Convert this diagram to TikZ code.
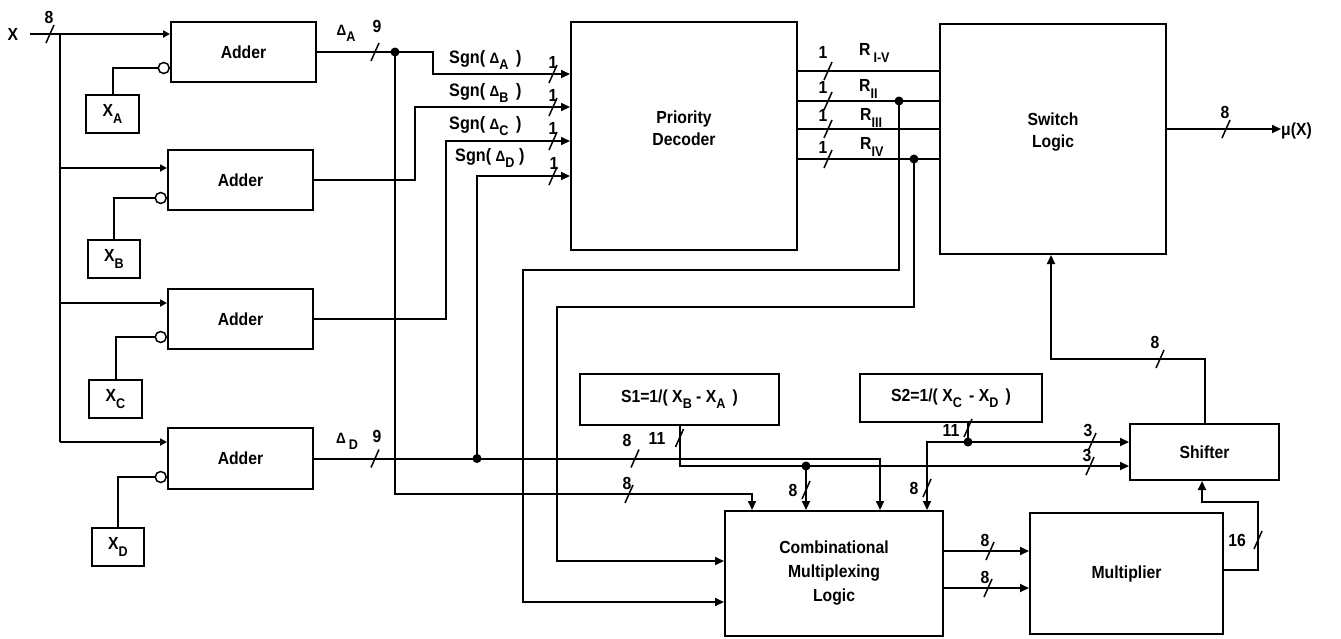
\documentclass[tikz,border=0pt]{standalone}
\usepackage{fontspec}
\setmainfont[FakeStretch=0.9]{Liberation Sans}
\usetikzlibrary{arrows.meta}
\newcommand{\sbs}[1]{\raisebox{-0.35em}{\fontsize{14}{14}\selectfont #1}}
\newcommand{\dlt}{{\fontsize{15}{15}\selectfont Δ}}
\newcommand{\bsl}[1]{\draw[busmark] (#1) ++(-4,9) -- ++(8,-18);}
\begin{document}
\begin{tikzpicture}[x=1pt,y=-1pt,
  font=\fontsize{17.5}{20}\selectfont\bfseries,
  wire/.style={line width=2pt},
  arr/.style={wire,-{Triangle[length=9pt,width=8pt]}},
  sarr/.style={wire,-{Triangle[length=7pt,width=7pt]}},
  blk/.style={draw,line width=2pt,inner sep=0pt,align=center},
  inv/.style={draw,circle,line width=1.5pt,fill=white,minimum size=11pt,inner sep=0pt},
  lbl/.style={inner sep=0pt},
  sgn/.style={lbl,anchor=west,font=\fontsize{18}{20}\selectfont\bfseries},
  busmark/.style={line width=1.5pt}]
\useasboundingbox (0,0) rectangle (1341,638);
% ---------- blocks
\node[blk,minimum width=145pt,minimum height=60pt] (adA) at (243.5,52) {Adder};
\node[blk,minimum width=145pt,minimum height=60pt] (adB) at (240.5,180) {Adder};
\node[blk,minimum width=145pt,minimum height=60pt] (adC) at (240.5,319) {Adder};
\node[blk,minimum width=145pt,minimum height=61pt] (adD) at (240.5,458.5) {Adder};
\node[blk,minimum width=53pt,minimum height=38pt] (xA) at (112.5,114) {X\sbs{A}};
\node[blk,minimum width=52pt,minimum height=38pt] (xB) at (114,259) {X\sbs{B}};
\node[blk,minimum width=53pt,minimum height=38pt] (xC) at (115.5,399) {X\sbs{C}};
\node[blk,minimum width=52pt,minimum height=38pt] (xD) at (118,547) {X\sbs{D}};
\node[blk,minimum width=226pt,minimum height=228pt,text depth=16pt] (pd) at (684,136) {Priority\\[2pt]Decoder};
\node[blk,minimum width=226pt,minimum height=230pt,text depth=18pt] (sw) at (1053,139) {Switch\\[2pt]Logic};
\node[blk,minimum width=199pt,minimum height=51pt] (s1) at (679.5,399.5) {S1=1/( X\sbs{B} - X\sbs{A} \,)};
\node[blk,minimum width=182pt,minimum height=48pt] (s2) at (951,398) {S2=1/( X\sbs{C} \,- X\sbs{D} \,)};
\node[blk,minimum width=149pt,minimum height=56pt] (sh) at (1204.5,452) {Shifter};
\node[blk,minimum width=218pt,minimum height=125pt] (cml) at (834,573.5) {Combinational\\[4pt]Multiplexing\\[4pt]Logic};
\node[blk,minimum width=193pt,minimum height=121pt] (mul) at (1126.5,573.5) {Multiplier};
% ---------- inverting inputs
\node[inv,anchor=east] (iA) at (adA.west |- 0,68) {};
\node[inv,anchor=east] (iB) at (adB.west |- 0,198) {};
\node[inv,anchor=east] (iC) at (adC.west |- 0,337) {};
\node[inv,anchor=east] (iD) at (adD.west |- 0,477) {};
\draw[wire] (iA.west) -| (xA.north);
\draw[wire] (iB.west) -| (xB.north);
\draw[wire] (iC.west) -| (xC.north);
\draw[wire] (iD.west) -| (xD.north);
% ---------- input X
\node[lbl] (X) at (13,34) {X};
\coordinate (xs) at (30,34);
\coordinate (bt) at (60,34);
\coordinate (bB) at (60,168);
\coordinate (bC) at (60,303);
\coordinate (bD) at (60,442);
\draw[sarr] (xs) -- (adA.west |- xs);
\draw[wire] (bt) -- (bD);
\draw[sarr] (bB) -- (adB.west |- bB);
\draw[sarr] (bC) -- (adC.west |- bC);
\draw[sarr] (bD) -- (adD.west |- bD);
% ---------- junctions
\coordinate (jA) at (395,52);
\coordinate (jD) at (477,458.5);
\coordinate (jR2) at (899,101);
\coordinate (jR4) at (914,159);
\coordinate (j1) at (806,466);
\coordinate (j2) at (968,442);
% ---------- adder outputs
\draw[arr] (adA.east) -- (433,52) |- (pd.west |- 0,74);
\draw[arr] (jA) |- (752,494) -- (cml.north -| 752,0);
\draw[arr] (adB.east) -| (415,107) -- (pd.west |- 0,107);
\draw[arr] (adC.east) -| (446,141) -- (pd.west |- 0,141);
\draw[arr] (adD.east) -| (cml.north -| 880,0);
\draw[arr] (jD) |- (pd.west |- 0,176);
% ---------- decoder outputs
\foreach \y in {71,101,129,159} \draw[wire] (pd.east |- 0,\y) -- (sw.west |- 0,\y);
\draw[arr] (jR2) |- (523,270) |- (cml.west |- 0,602);
\draw[arr] (jR4) |- (557,307) |- (cml.west |- 0,561);
% ---------- switch output
\node[lbl,anchor=west] (mu) at (1281,131) {μ(X)};
\draw[arr] (sw.east |- 0,129) -- (mu.west |- 0,129);
% ---------- S1, S2
\draw[arr] (s1.south) |- (sh.west |- 0,466);
\draw[arr] (j1) -- (cml.north -| j1);
\draw[wire] (s2.south -| j2) -- (j2);
\draw[arr] (j2) -- (sh.west |- j2);
\draw[arr] (j2) -| (cml.north -| 927,0);
% ---------- shifter, multiplier
\draw[arr] (sh.north) |- (1051,359) -- (sw.south -| 1051,0);
\draw[arr] (cml.east |- 0,551) -- (mul.west |- 0,551);
\draw[arr] (cml.east |- 0,588) -- (mul.west |- 0,588);
\draw[arr] (mul.east |- 0,570) -| (1258,502) -| (sh.south -| 1202,0);
% ---------- dots
\foreach \p in {jA,jD,jR2,jR4,j1,j2} \fill (\p) circle (4.5);
% ---------- bus marks
\bsl{50,34}\bsl{375,52}\bsl{553,74}\bsl{553,107}\bsl{553,141}\bsl{553,176}
\bsl{828,71}\bsl{828,101}\bsl{828,129}\bsl{828,159}\bsl{1226,129}
\bsl{375,458.5}\bsl{635,458.5}\bsl{679.5,438}\bsl{629,494}\bsl{806,490}
\bsl{968,428}\bsl{927,488}\bsl{1092,442}\bsl{1090,466}\bsl{1160,359}
\bsl{990,551}\bsl{988,588}\bsl{1258,540}
% ---------- labels
\node[lbl] (l8x) at (49,17) {8};
\node[lbl] (ldA) at (346,33) {\dlt\sbs{A}};
\node[lbl] (l9A) at (377,26) {9};
\node[lbl] (ldD) at (347,441) {\dlt\,\sbs{D}};
\node[lbl] (l9D) at (377,436) {9};
\node[sgn] (sgA) at (449,60) {Sgn( \dlt\sbs{A} \,)};
\node[sgn] (sgB) at (449,93) {Sgn( \dlt\sbs{B} \,)};
\node[sgn] (sgC) at (449,126) {Sgn( \dlt\sbs{C} \,)};
\node[sgn] (sgD) at (455,158) {Sgn( \dlt\sbs{D} )};
\node[lbl] (o1) at (553,62) {1};
\node[lbl] (o2) at (553,95) {1};
\node[lbl] (o3) at (553,128) {1};
\node[lbl] (o4) at (554,163) {1};
\node[lbl] (r1n) at (823,52) {1};
\node[lbl] (r2n) at (823,87) {1};
\node[lbl] (r3n) at (823,115) {1};
\node[lbl] (r4n) at (823,147) {1};
\node[lbl,anchor=west] (rA) at (859,53) {R\,\sbs{I-V}};
\node[lbl,anchor=west] (rB) at (859,89) {R\sbs{II}};
\node[lbl,anchor=west] (rC) at (860,118) {R\sbs{III}};
\node[lbl,anchor=west] (rD) at (860,147) {R\sbs{IV}};
\node[lbl] (l8o) at (1225,112) {8};
\node[lbl] (l8a) at (627,440) {8};
\node[lbl] (l11a) at (657,438) {11};
\node[lbl] (l8b) at (627,483) {8};
\node[lbl] (l8c) at (793,490) {8};
\node[lbl] (l11b) at (951,430) {11};
\node[lbl] (l8d) at (914,488) {8};
\node[lbl] (l3a) at (1088,430) {3};
\node[lbl] (l3b) at (1087,455) {3};
\node[lbl] (l8e) at (1155,342) {8};
\node[lbl] (l8f) at (985,540) {8};
\node[lbl] (l8g) at (985,577) {8};
\node[lbl] (l16) at (1237,540) {16};
\end{tikzpicture}
\end{document}
